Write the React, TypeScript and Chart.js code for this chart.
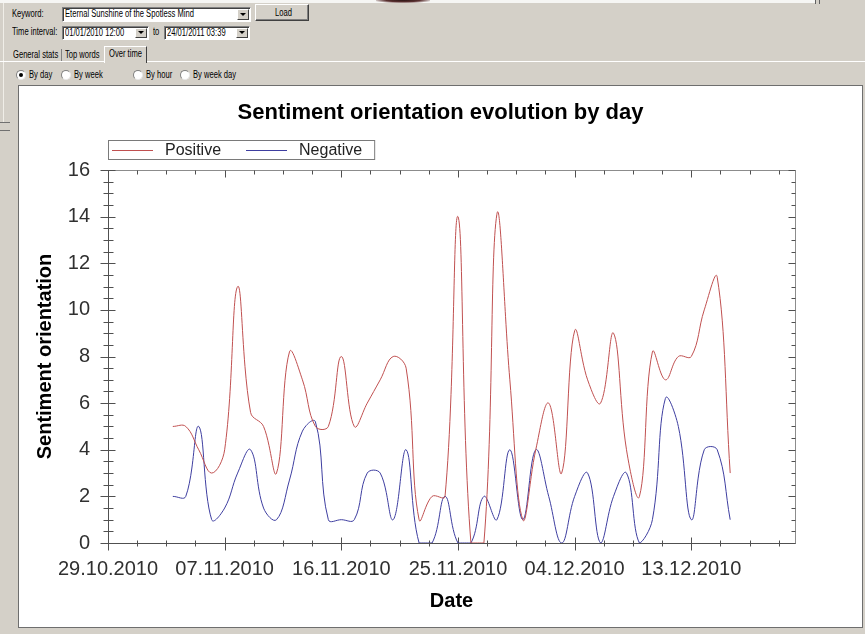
import React, { useEffect, useRef } from "react";
import { Chart, registerables } from "chart.js";

Chart.register(...registerables);

// ---------- data ----------
const AXIS_START = "29.10.2010";
const dates = [
  "03.11.2010", "04.11.2010", "05.11.2010", "06.11.2010", "07.11.2010", "08.11.2010", "09.11.2010",
  "10.11.2010", "11.11.2010", "12.11.2010", "13.11.2010", "14.11.2010", "15.11.2010", "16.11.2010",
  "17.11.2010", "18.11.2010", "19.11.2010", "20.11.2010", "21.11.2010", "22.11.2010", "23.11.2010",
  "24.11.2010", "25.11.2010", "26.11.2010", "27.11.2010", "28.11.2010", "29.11.2010", "30.11.2010",
  "01.12.2010", "02.12.2010", "03.12.2010", "04.12.2010", "05.12.2010", "06.12.2010", "07.12.2010",
  "08.12.2010", "09.12.2010", "10.12.2010", "11.12.2010", "12.12.2010", "13.12.2010", "14.12.2010",
  "15.12.2010", "16.12.2010",
];
const positive = [
  5, 5, 4, 3, 4, 11, 5.6, 5, 3, 8.2, 7, 5, 5, 8, 5, 6, 7, 8, 7.5, 1, 2, 2,
  14, 0, 0, 14.1, 7, 1, 4, 6, 3, 9.1, 7, 6, 9, 4, 2, 8.2, 7, 8, 8, 10, 11.4, 3,
];
const negative = [
  2, 2, 5, 1, 1.5, 3, 4, 1.5, 1, 2.7, 4.8, 5.2, 1, 1, 1, 3, 3, 1, 4, 0, 0, 2,
  0, 0, 2, 1, 4, 1, 4, 2, 0, 2, 3, 0, 2, 3, 0, 1, 6.2, 5, 1, 4, 4, 1,
];
const xTickLabels = ["29.10.2010", "07.11.2010", "16.11.2010", "25.11.2010", "04.12.2010", "13.12.2010"];
const xAxisEndDate = "21.12.2010";
const yTickValues = [0, 2, 4, 6, 8, 10, 12, 14, 16];

// ---------- helpers ----------
function dayOffset(d: string): number {
  const [dd, mm, yy] = d.split(".").map(Number);
  const [d0, m0, y0] = AXIS_START.split(".").map(Number);
  return Math.round((Date.UTC(yy, mm - 1, dd) - Date.UTC(y0, m0 - 1, d0)) / 86400000);
}

const FONT = "'Liberation Sans', Arial, Helvetica, sans-serif";
const POS_COLOR = "rgb(192,80,80)";
const NEG_COLOR = "rgb(62,62,160)";
const X_MAJOR = 9;
const X_MINOR = 2.25;
const Y_MINOR = 0.5;

const framePlugin = {
  id: "frame",
  beforeDatasetsDraw(chart: any) {
    const { ctx, chartArea } = chart;
    const xs = chart.scales.x;
    const ys = chart.scales.y;
    const L = Math.round(chartArea.left) + 0.5;
    const R = Math.round(chartArea.right) + 0.5;
    const T = Math.round(chartArea.top) + 0.5;
    const B = Math.round(chartArea.bottom) + 0.5;
    ctx.save();
    ctx.lineWidth = 1;
    ctx.strokeStyle = "#8c8c8c";
    ctx.beginPath();
    ctx.moveTo(L, T);
    ctx.lineTo(R, T);
    ctx.lineTo(R, B);
    ctx.stroke();
    ctx.strokeStyle = "#505050";
    ctx.beginPath();
    ctx.moveTo(L, T);
    ctx.lineTo(L, B);
    ctx.lineTo(R, B);
    ctx.stroke();

    const xMax = xs.max;
    ctx.beginPath();
    for (let i = 0; i * X_MINOR <= xMax + 1e-9; i++) {
      const v = i * X_MINOR;
      const px = Math.round(xs.getPixelForValue(v)) + 0.5;
      const major = Math.abs(v / X_MAJOR - Math.round(v / X_MAJOR)) < 1e-9;
      ctx.moveTo(px, B - (major ? 6 : 3));
      ctx.lineTo(px, B + (major ? 7 : 3));
      ctx.moveTo(px, T);
      ctx.lineTo(px, T + (major ? 7 : 4));
    }
    ctx.strokeStyle = "#505050";
    ctx.stroke();

    ctx.beginPath();
    for (let i = 0; i * Y_MINOR <= ys.max + 1e-9; i++) {
      const v = i * Y_MINOR;
      const py = Math.round(ys.getPixelForValue(v)) + 0.5;
      const major = yTickValues.includes(v);
      ctx.moveTo(L - (major ? 8 : 5), py);
      ctx.lineTo(L + (major ? 7 : 5), py);
      ctx.moveTo(R, py);
      ctx.lineTo(R - (major ? 7 : 4), py);
    }
    ctx.stroke();
    ctx.restore();
  },
};

const legendPlugin = {
  id: "boxLegend",
  afterDraw(chart: any) {
    const { ctx, chartArea } = chart;
    const items = chart.data.datasets.map((d: any) => ({ label: d.label, color: d.borderColor }));
    ctx.save();
    ctx.font = `16px ${FONT}`;
    const boxLeft = Math.round(chartArea.left);
    const boxTop = Math.round(chartArea.top) - 30;
    const boxH = 19;
    let x = boxLeft + 4;
    const cy = boxTop + 10;
    const parts: any[] = [];
    items.forEach((it: any, i: number) => {
      const lineStart = x;
      const lineEnd = x + 41;
      const textX = lineEnd + 12;
      const w = ctx.measureText(it.label).width;
      parts.push({ lineStart, lineEnd, textX, it });
      x = textX + w + (i < items.length - 1 ? 25 : 12);
    });
    const boxRight = x;
    ctx.fillStyle = "#fff";
    ctx.fillRect(boxLeft, boxTop, boxRight - boxLeft, boxH);
    ctx.strokeStyle = "#7a7a7a";
    ctx.lineWidth = 1;
    ctx.strokeRect(boxLeft + 0.5, boxTop + 0.5, boxRight - boxLeft, boxH);
    parts.forEach((p) => {
      ctx.strokeStyle = p.it.color;
      ctx.beginPath();
      ctx.moveTo(p.lineStart, cy + 0.5);
      ctx.lineTo(p.lineEnd, cy + 0.5);
      ctx.stroke();
      ctx.fillStyle = "#222";
      ctx.textBaseline = "middle";
      ctx.textAlign = "left";
      ctx.fillText(p.it.label, p.textX, cy + 1);
    });
    ctx.restore();
  },
};

// ---------- small UI pieces ----------
const GRAY = "#d4d0c8";

function Txt(props: { left: number; top: number; children: React.ReactNode; size?: number }) {
  return (
    <span
      style={{
        position: "absolute",
        left: props.left,
        top: props.top,
        fontSize: props.size ?? 10,
        lineHeight: "12px",
        fontFamily: FONT,
        color: "#000",
        whiteSpace: "nowrap",
        transform: "scaleX(0.76)",
        transformOrigin: "left top",
      }}
    >
      {props.children}
    </span>
  );
}

function Combo(props: { left: number; top: number; width: number; height: number; text: string }) {
  return (
    <div
      style={{
        position: "absolute",
        left: props.left,
        top: props.top,
        width: props.width,
        height: props.height,
        boxSizing: "border-box",
        background: "#fff",
        borderStyle: "solid",
        borderWidth: 1,
        borderColor: "#808080 #ffffff #ffffff #808080",
        boxShadow: "inset 1px 1px 0 #404040",
      }}
    >
      <Txt left={2} top={0}>{props.text}</Txt>
      <div
        style={{
          position: "absolute",
          right: 1,
          top: 1,
          width: 12,
          height: props.height - 4,
          boxSizing: "border-box",
          background: GRAY,
          borderStyle: "solid",
          borderWidth: 1,
          borderColor: "#ffffff #404040 #404040 #ffffff",
        }}
      >
        <div
          style={{
            position: "absolute",
            left: 2,
            top: Math.round((props.height - 4) / 2) - 3,
            width: 0,
            height: 0,
            borderLeft: "3px solid transparent",
            borderRight: "3px solid transparent",
            borderTop: "3px solid #000",
          }}
        />
      </div>
    </div>
  );
}

function Radio(props: { cx: number; cy: number; checked?: boolean; label: string }) {
  return (
    <>
      <div
        style={{
          position: "absolute",
          left: props.cx - 5,
          top: props.cy - 5,
          width: 10,
          height: 10,
          boxSizing: "border-box",
          borderRadius: "50%",
          background: "#fff",
          borderStyle: "solid",
          borderWidth: 1,
          borderColor: "#808080 #e8e8e8 #e8e8e8 #808080",
        }}
      >
        {props.checked && (
          <div
            style={{
              position: "absolute",
              left: 2,
              top: 2,
              width: 4,
              height: 4,
              borderRadius: "50%",
              background: "#000",
            }}
          />
        )}
      </div>
      <Txt left={props.cx + 8} top={props.cy - 6}>{props.label}</Txt>
    </>
  );
}

export default function App() {
  const ref = useRef<HTMLCanvasElement>(null);

  useEffect(() => {
    document.body.style.margin = "0";
    const canvas = ref.current;
    if (!canvas) return;
    const toPoints = (vals: number[]) => dates.map((d, i) => ({ x: dayOffset(d), y: vals[i] }));
    const tickFont = { family: FONT, size: 20 };
    const chart = new Chart(canvas, {
      type: "line",
      data: {
        datasets: [
          {
            label: "Positive",
            data: toPoints(positive),
            borderColor: POS_COLOR,
            backgroundColor: POS_COLOR,
            borderWidth: 1,
            pointRadius: 0,
            tension: 0.4,
            fill: false,
          },
          {
            label: "Negative",
            data: toPoints(negative),
            borderColor: NEG_COLOR,
            backgroundColor: NEG_COLOR,
            borderWidth: 1,
            pointRadius: 0,
            tension: 0.4,
            fill: false,
          },
        ],
      },
      options: {
        animation: false,
        responsive: false,
        maintainAspectRatio: false,
        events: [],
        layout: { padding: { left: 0, right: 0, top: 0, bottom: 0 } },
        plugins: {
          legend: { display: false },
          tooltip: { enabled: false },
          title: {
            display: true,
            text: "Sentiment orientation evolution by day",
            color: "#000",
            font: { family: FONT, size: 22, weight: "bold" },
            padding: { top: 14, bottom: 43.6 },
          },
        },
        scales: {
          x: {
            type: "linear",
            min: 0,
            max: dayOffset(xAxisEndDate),
            grid: { display: false, drawTicks: false },
            border: { display: false },
            afterBuildTicks: (scale: any) => {
              scale.ticks = xTickLabels.map((l) => ({ value: dayOffset(l) }));
            },
            afterFit: (scale: any) => {
              scale.height = 84;
            },
            ticks: {
              autoSkip: false,
              maxRotation: 0,
              padding: 14,
              color: "#303030",
              font: tickFont,
              callback: (v: any) => {
                const idx = xTickLabels.findIndex((l) => dayOffset(l) === v);
                return idx >= 0 ? xTickLabels[idx] : "";
              },
            },
            title: {
              display: true,
              text: "Date",
              color: "#000",
              font: { family: FONT, size: 20, weight: "bold" },
              padding: { top: 0, bottom: 14 },
            },
          },
          y: {
            type: "linear",
            min: yTickValues[0],
            max: yTickValues[yTickValues.length - 1],
            grid: { display: false, drawTicks: false },
            border: { display: false },
            afterBuildTicks: (scale: any) => {
              scale.ticks = yTickValues.map((v) => ({ value: v }));
            },
            afterFit: (scale: any) => {
              scale.width = 89;
            },
            ticks: {
              padding: 18,
              color: "#303030",
              font: tickFont,
            },
            title: {
              display: true,
              text: "Sentiment orientation",
              color: "#000",
              font: { family: FONT, size: 20, weight: "bold" },
              padding: { top: 14, bottom: 0 },
            },
          },
          // empty right-hand margin scale (reserves space right of the plot)
          yRight: {
            type: "linear",
            position: "right",
            display: true,
            grid: { display: false, drawTicks: false },
            border: { display: false },
            ticks: { display: false },
            afterFit: (scale: any) => {
              scale.width = 67;
            },
          },
        },
      } as any,
      plugins: [framePlugin, legendPlugin],
    });
    return () => chart.destroy();
  }, []);

  return (
    <div
      style={{
        position: "relative",
        width: 865,
        height: 634,
        background: GRAY,
        overflow: "hidden",
        fontFamily: FONT,
      }}
    >
      {/* top strip from window behind */}
      <div style={{ position: "absolute", left: 0, top: 0, width: 815, height: 3, background: "#f6f6f4" }} />
      <div
        style={{
          position: "absolute",
          left: 376,
          top: 0,
          width: 54,
          height: 3,
          background: "radial-gradient(ellipse at 50% 0%, #2a1414 0%, #5a3030 45%, rgba(246,246,244,0) 80%)",
        }}
      />
      <div style={{ position: "absolute", left: 815, top: 0, width: 1, height: 4, background: "#606060" }} />
      <div style={{ position: "absolute", left: 819, top: 0, width: 1, height: 4, background: "#606060" }} />

      {/* left strip detail */}
      <div style={{ position: "absolute", left: 3, top: 3, width: 1, height: 119, background: "#f0eee8" }} />
      <div style={{ position: "absolute", left: 0, top: 122, width: 10, height: 1, background: "#707070" }} />
      <div style={{ position: "absolute", left: 0, top: 130, width: 10, height: 1, background: "#707070" }} />

      {/* keyword row */}
      <Txt left={12} top={8}>Keyword:</Txt>
      <Combo left={62} top={7} width={189} height={15} text="Eternal Sunshine of the Spotless Mind" />
      <div
        style={{
          position: "absolute",
          left: 255,
          top: 4,
          width: 54,
          height: 17,
          boxSizing: "border-box",
          background: GRAY,
          borderStyle: "solid",
          borderWidth: 1,
          borderColor: "#ffffff #404040 #404040 #ffffff",
          boxShadow: "inset -1px -1px 0 #808080",
        }}
      >
        <Txt left={19} top={2}>Load</Txt>
      </div>

      {/* time interval row */}
      <Txt left={12} top={26}>Time interval:</Txt>
      <Combo left={62} top={26} width={87} height={14} text="01/01/2010  12:00" />
      <Txt left={153} top={26}>to</Txt>
      <Combo left={164} top={26} width={86} height={14} text="24/01/2011  03:39" />

      {/* tabs */}
      <div style={{ position: "absolute", left: 0, top: 61, width: 865, height: 1, background: "#ffffff" }} />
      <Txt left={13} top={49}>General stats</Txt>
      <div style={{ position: "absolute", left: 61, top: 49, width: 1, height: 12, background: "#808080" }} />
      <Txt left={65} top={49}>Top words</Txt>
      <div
        style={{
          position: "absolute",
          left: 104,
          top: 46,
          width: 43,
          height: 17,
          boxSizing: "border-box",
          background: GRAY,
          borderLeft: "1px solid #ffffff",
          borderTop: "1px solid #ffffff",
          borderRight: "1px solid #404040",
        }}
      >
        <Txt left={4} top={1}>Over time</Txt>
      </div>

      {/* radio row */}
      <Radio cx={21} cy={75} checked label="By day" />
      <Radio cx={66} cy={75} label="By week" />
      <Radio cx={138} cy={75} label="By hour" />
      <Radio cx={185} cy={75} label="By week day" />

      {/* chart panel */}
      <div
        style={{
          position: "absolute",
          left: 18,
          top: 85,
          width: 845,
          height: 543,
          boxSizing: "border-box",
          background: "#fff",
          border: "1px solid #6e6e6e",
        }}
      >
        <canvas ref={ref} width={843} height={541} style={{ display: "block", width: 843, height: 541 }} />
      </div>
    </div>
  );
}
